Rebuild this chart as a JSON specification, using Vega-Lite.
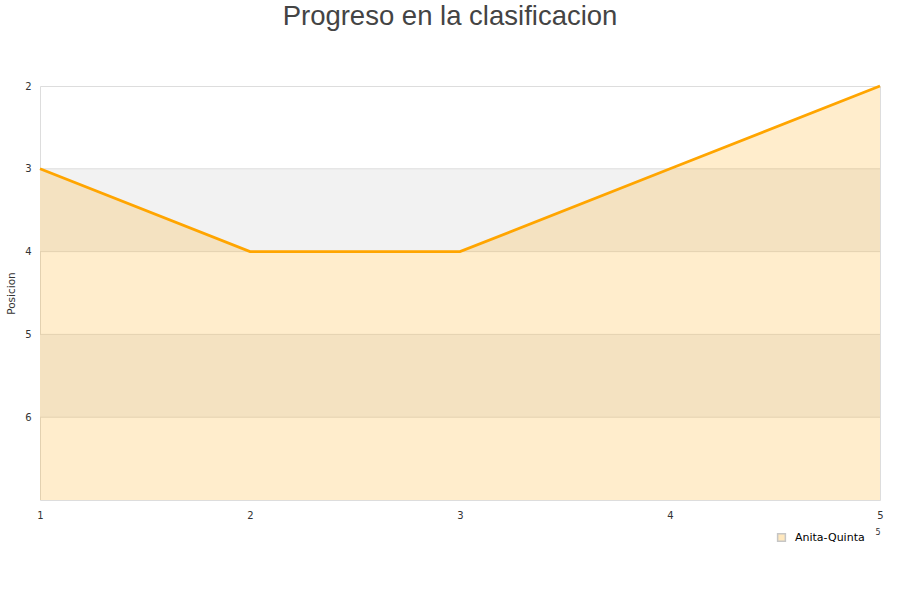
{
  "$schema": "https://vega.github.io/schema/vega-lite/v6.json",
  "autosize": "none",
  "width": 840,
  "height": 414,
  "padding": {"left": 40, "top": 86, "right": 20, "bottom": 100},
  "background": "white",
  "config": {
    "font": "Liberation Sans",
    "view": {"stroke": "#dddddd", "strokeWidth": 1}
  },
  "title": {
    "text": "Progreso en la clasificacion",
    "fontSize": 27.5,
    "fontWeight": "normal",
    "color": "#444444",
    "font": "Liberation Sans",
    "anchor": "middle",
    "dx": -10,
    "offset": 50
  },
  "datasets": {
    "serie": [
      {"jornada": 1, "posicion": 3, "equipo": "Anita-Quinta"},
      {"jornada": 2, "posicion": 4, "equipo": "Anita-Quinta"},
      {"jornada": 3, "posicion": 4, "equipo": "Anita-Quinta"},
      {"jornada": 4, "posicion": 3, "equipo": "Anita-Quinta"},
      {"jornada": 5, "posicion": 2, "equipo": "Anita-Quinta"}
    ],
    "bandas": [
      {"desde": 3, "hasta": 4},
      {"desde": 5, "hasta": 6}
    ],
    "rejilla": [
      {"v": 3}, {"v": 4}, {"v": 5}, {"v": 6}
    ]
  },
  "layer": [
    {
      "data": {"name": "bandas"},
      "mark": {"type": "rect", "fill": "#f2f2f2"},
      "encoding": {
        "x": {"datum": 1, "type": "quantitative"},
        "x2": {"datum": 5},
        "y": {"field": "desde", "type": "quantitative"},
        "y2": {"field": "hasta"}
      }
    },
    {
      "data": {"name": "rejilla"},
      "mark": {"type": "rule", "stroke": "#dddddd", "strokeWidth": 1},
      "encoding": {
        "y": {"field": "v", "type": "quantitative"}
      }
    },
    {
      "data": {"name": "serie"},
      "mark": {"type": "area", "fillOpacity": 0.2, "interpolate": "linear"},
      "encoding": {
        "x": {
          "field": "jornada", "type": "quantitative",
          "scale": {"domain": [1, 5], "nice": false, "zero": false},
          "axis": {
            "values": [1, 2, 3, 4, 5], "grid": false, "ticks": false, "domain": false,
            "labelFontSize": 10, "labelColor": "#333333", "labelPadding": 10,
            "labelFont": "DejaVu Sans", "labelFlush": false,
            "format": "d",
            "title": "5", "titleFontSize": 8, "titleFontWeight": "normal",
            "titleColor": "#333333", "titleAnchor": "end", "titlePadding": 8,
            "titleFont": "DejaVu Sans"
          }
        },
        "y": {
          "field": "posicion", "type": "quantitative",
          "scale": {"domain": [2, 7], "reverse": true, "nice": false, "zero": false},
          "axis": {
            "values": [2, 3, 4, 5, 6], "grid": false, "ticks": false, "domain": false,
            "format": "d",
            "labelFontSize": 10, "labelColor": "#333333", "labelPadding": 9,
            "labelFont": "DejaVu Sans", "labelFlush": false,
            "title": "Posicion", "titleFontSize": 10.5, "titleFontWeight": "normal",
            "titleColor": "#333333", "titlePadding": 8, "titleFont": "DejaVu Sans"
          }
        },
        "y2": {"datum": 7},
        "color": {
          "field": "equipo", "type": "nominal",
          "scale": {"range": ["#ffa500"]},
          "legend": {
            "title": null,
            "orient": "none",
            "legendX": 736,
            "legendY": 446,
            "symbolType": "square",
            "symbolSize": 60,
            "symbolOpacity": 0.25,
            "symbolStrokeColor": "#222222",
            "symbolStrokeWidth": 1.5,
            "labelFontSize": 11,
            "labelColor": "#000000",
            "labelFont": "DejaVu Sans",
            "labelOffset": 8
          }
        }
      }
    },
    {
      "data": {"name": "serie"},
      "mark": {"type": "line", "stroke": "#ffa500", "strokeWidth": 2.8},
      "encoding": {
        "x": {"field": "jornada", "type": "quantitative"},
        "y": {"field": "posicion", "type": "quantitative"}
      }
    }
  ]
}
